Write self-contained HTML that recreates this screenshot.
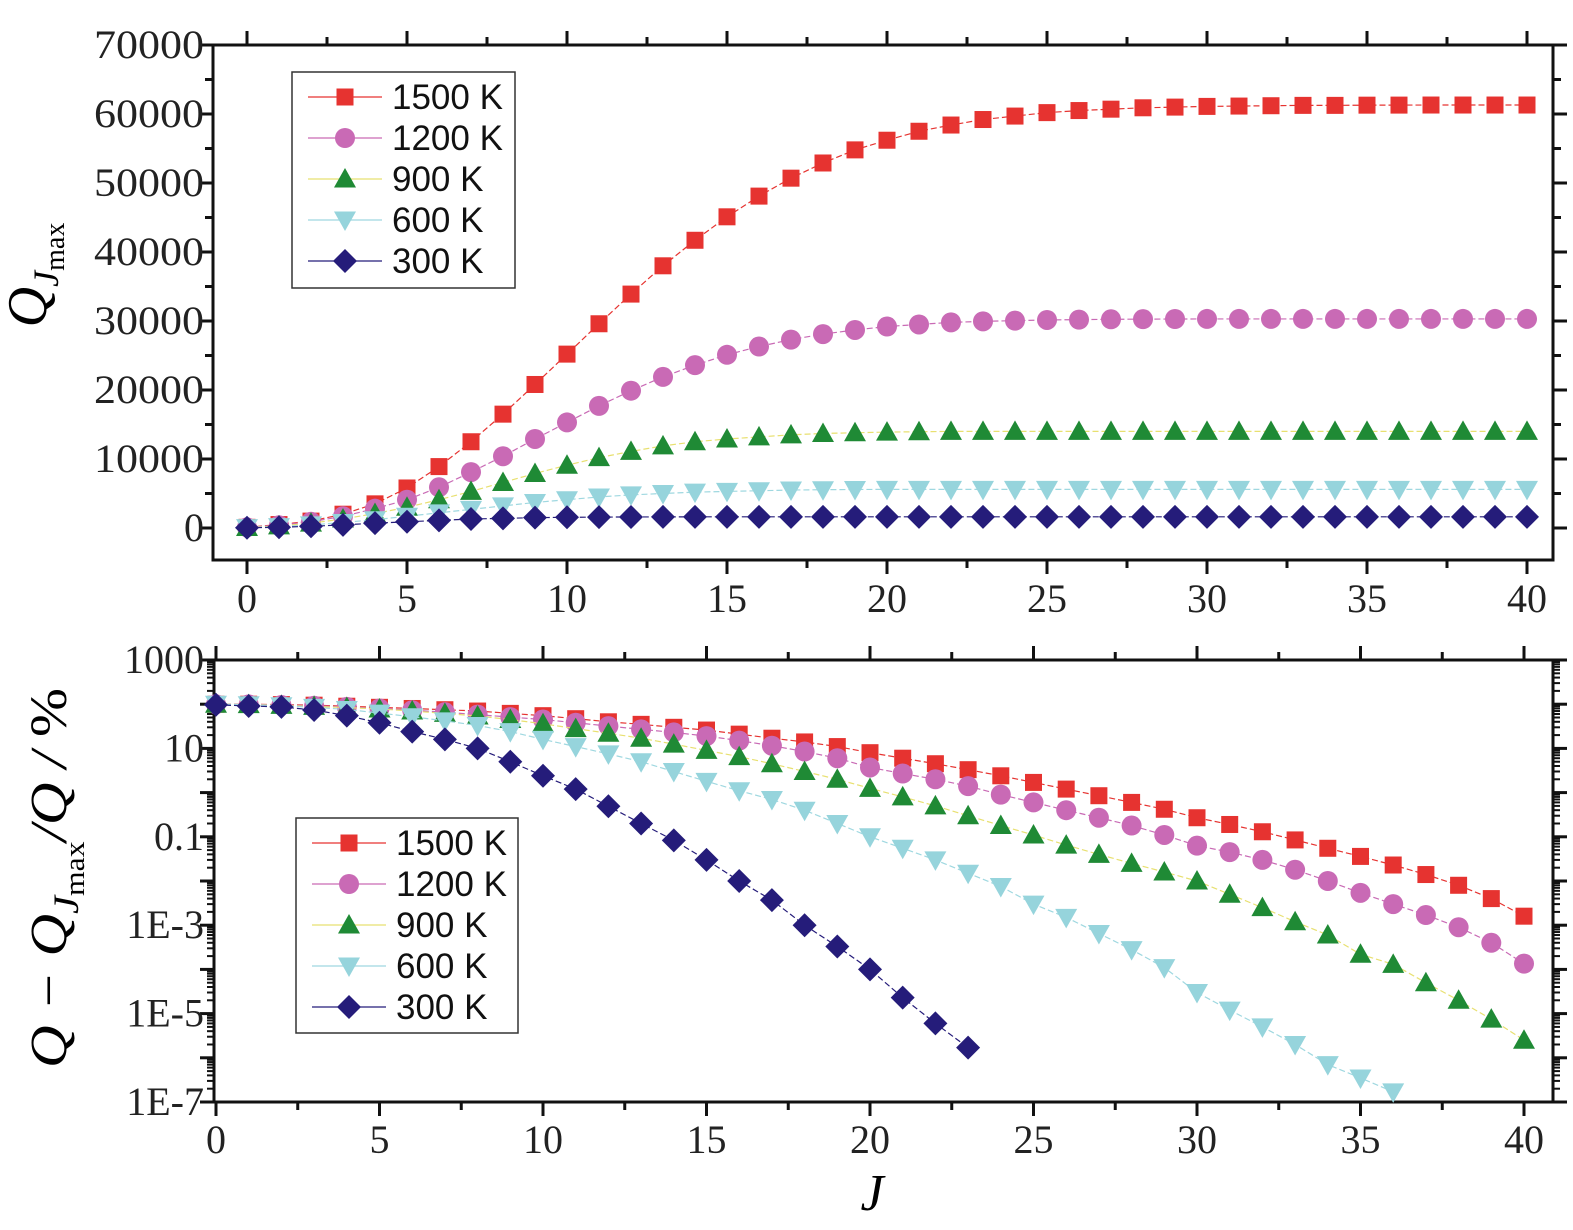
<!DOCTYPE html>
<html><head><meta charset="utf-8">
<style>
body{margin:0;background:#fff}
svg{display:block}
.tk{font-family:"Liberation Serif",serif;font-size:40px;fill:#222}
.lg{font-family:"Liberation Sans",sans-serif;font-size:35px;fill:#111}
</style></head>
<body>
<svg id="chart" width="1573" height="1230" viewBox="0 0 1573 1230" xmlns="http://www.w3.org/2000/svg"></svg>
<script>
const J = Array.from({length:41},(_,i)=>i);
const seriesNames = ["1500 K","1200 K","900 K","600 K","300 K"];
const qTop1500 = [100,500,1000,2000,3500,5800,8900,12500,16500,20800,25200,29600,33900,38000,41700,45100,48100,50700,52900,54800,56200,57500,58400,59200,59700,60200,60500,60700,60900,61000,61100,61150,61200,61250,61250,61280,61290,61300,61300,61300,61300];
const qTop1200 = [100,400,900,1700,2800,4100,5900,8100,10400,12900,15300,17700,19900,21900,23600,25100,26300,27300,28100,28700,29200,29500,29800,29950,30050,30150,30200,30250,30270,30290,30300,30300,30300,30300,30300,30300,30300,30300,30300,30300,30300];
const qTop900 = [80,300,700,1300,2100,3000,4100,5300,6600,7900,9100,10200,11100,11900,12500,12900,13200,13500,13700,13800,13900,13950,14000,14000,14000,14000,14000,14000,14000,14000,14000,14000,14000,14000,14000,14000,14000,14000,14000,14000,14000];
const qTop600 = [60,200,450,800,1200,1700,2200,2700,3200,3700,4100,4500,4800,5000,5200,5300,5400,5500,5550,5580,5600,5600,5600,5600,5600,5600,5600,5600,5600,5600,5600,5600,5600,5600,5600,5600,5600,5600,5600,5600,5600];
const qTop300 = [30,100,250,450,700,900,1100,1300,1400,1500,1550,1580,1600,1610,1620,1620,1620,1620,1620,1620,1620,1620,1620,1620,1620,1620,1620,1620,1620,1620,1620,1620,1620,1620,1620,1620,1620,1620,1620,1620,1620];
const pct1500 = [100,100,98,95,90,85,80,75,70,62,55,47,40,35,30,26,21,17,14,11,8,6,4.5,3.3,2.4,1.7,1.2,0.85,0.6,0.42,0.27,0.19,0.13,0.085,0.055,0.036,0.023,0.014,0.008,0.004,0.0016];
const pct1200 = [100,99,96,92,87,80,73,66,58,51,45,38,32,27,23,19,15,11.5,8.5,6,3.7,2.7,2,1.4,0.9,0.6,0.4,0.27,0.18,0.11,0.063,0.045,0.03,0.018,0.01,0.0054,0.003,0.0017,0.0009,0.0004,0.000135];
const pct900 = [100,98,94,89,84,78,70,62,54,45,36,28,22,17,12.5,9,6.5,4.5,3,2,1.25,0.8,0.5,0.3,0.18,0.11,0.065,0.04,0.025,0.016,0.01,0.005,0.0025,0.0012,6e-4,2.2e-4,1.3e-4,5e-5,2e-5,7.5e-6,2.5e-6];
const pct600 = [100,97,92,85,76,63,52,42,33,24,16,11,7.5,5,3,1.8,1.1,0.7,0.4,0.2,0.1,0.055,0.03,0.015,0.0075,0.003,0.0015,6.5e-4,2.8e-4,1.1e-4,3e-5,1.2e-5,5e-6,2e-6,7e-7,3.5e-7,1.7e-7];
const pct300 = [97,91,87,74,55,38,24,16,10,5,2.4,1.2,0.49,0.2,0.083,0.03,0.01,0.0037,0.001,3.3e-4,1e-4,2.3e-5,6e-6,1.7e-6];
const topTicks = [0,10000,20000,30000,40000,50000,60000,70000];
const botTickVals = [1000,10,0.1,0.001,0.00001,0.0000001];
const botTickLabels = ["1000","10","0.1","1E-3","1E-5","1E-7"];
const xTickVals = [0,5,10,15,20,25,30,35,40];

const NS="http://www.w3.org/2000/svg";
const svg=document.getElementById('chart');
function mk(tag,attrs,parent){const e=document.createElementNS(NS,tag);for(const k in attrs)e.setAttribute(k,attrs[k]);(parent||svg).appendChild(e);return e;}

const colors=["#e63330","#c96ab5","#1f8a35","#96d4dc","#251c7a"];
const lineCol=["#e63330","#c96ab5","#e8e070","#9fd8e0","#251c7a"];
const shapes=["square","circle","tri","dtri","diamond"];
function marker(g,shape,cx,cy,col,s){
  s=s||10;let e;
  if(shape==="square") e=mk('rect',{x:cx-s*0.85,y:cy-s*0.85,width:s*1.7,height:s*1.7,fill:col},g);
  else if(shape==="circle") e=mk('circle',{cx:cx,cy:cy,r:s,fill:col},g);
  else if(shape==="tri") e=mk('polygon',{points:`${cx},${cy-s*1.1} ${cx+s*1.1},${cy+s*0.85} ${cx-s*1.1},${cy+s*0.85}`,fill:col},g);
  else if(shape==="dtri") e=mk('polygon',{points:`${cx},${cy+s*1.1} ${cx+s*1.1},${cy-s*0.85} ${cx-s*1.1},${cy-s*0.85}`,fill:col},g);
  else e=mk('polygon',{points:`${cx},${cy-s*1.2} ${cx+s*1.2},${cy} ${cx},${cy+s*1.2} ${cx-s*1.2},${cy}`,fill:col},g);
  return e;
}

// ---------- top panel ----------
const T={l:213,r:1553,t:45,b:560};
const tx=v=>247+v*32;
const ty=v=>528-v*(483/70000);
const topFrame=mk('rect',{x:T.l,y:T.t,width:T.r-T.l,height:T.b-T.t,fill:"none",stroke:"#111","stroke-width":3});


const topAx=mk('g',{});


for(let v=0;v<=40;v+=2.5){const x=tx(v);const maj=v%5===0;
  mk('line',{x1:x,y1:T.b,x2:x,y2:T.b+(maj?14:8),stroke:"#111","stroke-width":3},topAx);
  mk('line',{x1:x,y1:T.t,x2:x,y2:T.t-(maj?14:8),stroke:"#111","stroke-width":3},topAx);}
xTickVals.forEach(v=>{const t=mk('text',{x:tx(v),y:612,"text-anchor":"middle",class:"tk"},topAx);t.textContent=v;});
for(let v=0;v<=70000;v+=5000){const y=ty(v);const maj=v%10000===0;
  mk('line',{x1:T.l,y1:y,x2:T.l-(maj?14:8),y2:y,stroke:"#111","stroke-width":3},topAx);
  mk('line',{x1:T.r,y1:y,x2:T.r+(maj?14:8),y2:y,stroke:"#111","stroke-width":3},topAx);}
topTicks.forEach(v=>{const t=mk('text',{x:204,y:ty(v)+13,"text-anchor":"end",class:"tk",textLength:v===0?null:110,lengthAdjust:"spacingAndGlyphs"},topAx);if(v===0)t.removeAttribute('textLength');t.textContent=v;});
const topData=[qTop1500,qTop1200,qTop900,qTop600,qTop300];
topData.forEach((arr,si)=>{
  const g=mk('g',{});
  
  
  mk('polyline',{points:arr.map((v,i)=>tx(J[i])+","+ty(v)).join(" "),fill:"none",stroke:lineCol[si],"stroke-width":1.2,"stroke-dasharray":"6,3"},g);
  arr.forEach((v,i)=>{const m=marker(g,shapes[si],tx(J[i]),ty(v),colors[si]);
    
    });
});
const yt1=mk('text',{transform:"translate(46,275) rotate(-90)","text-anchor":"middle",style:"font-family:'Liberation Serif',serif;font-size:56px;font-style:italic"});


yt1.innerHTML='Q<tspan font-size="36" dy="12">J</tspan><tspan font-size="28" font-style="normal" dy="6">max</tspan>';

function legend(x,y,w,h,name){
  const g=mk('g',{});
  
  
  mk('rect',{x:x,y:y,width:w,height:h,fill:"#fff",stroke:"#333","stroke-width":1.5},g);
  seriesNames.forEach((n,i)=>{const cy=y+25+i*41;
    const e=mk('g',{},g);
    
    
    mk('line',{x1:x+16,y1:cy,x2:x+90,y2:cy,stroke:lineCol[i],"stroke-width":1.2},e);
    marker(e,shapes[i],x+53,cy,colors[i]);
    const t=mk('text',{x:x+100,y:cy+12,class:"lg"},e);t.textContent=n;});
}
legend(292,72,223,216,'top-legend');

// ---------- bottom panel ----------
const B={l:214,r:1553,t:660,b:1102};
const bx=v=>216+v*32.7;
const by=v=>660+(3-Math.log10(v))*44.2;
const botFrame=mk('rect',{x:B.l,y:B.t,width:B.r-B.l,height:B.b-B.t,fill:"none",stroke:"#111","stroke-width":3});


const botAx=mk('g',{});


for(let v=0;v<=40;v+=2.5){const x=bx(v);const maj=v%5===0;
  mk('line',{x1:x,y1:B.b,x2:x,y2:B.b+(maj?14:8),stroke:"#111","stroke-width":3},botAx);
  mk('line',{x1:x,y1:B.t,x2:x,y2:B.t-(maj?14:8),stroke:"#111","stroke-width":3},botAx);}
xTickVals.forEach(v=>{const t=mk('text',{x:bx(v),y:1153,"text-anchor":"middle",class:"tk"},botAx);t.textContent=v;});
for(let d=-7;d<=3;d++){
  const y=by(Math.pow(10,d));
  mk('line',{x1:B.l,y1:y,x2:B.l-14,y2:y,stroke:"#111","stroke-width":3},botAx);
  mk('line',{x1:B.r,y1:y,x2:B.r+14,y2:y,stroke:"#111","stroke-width":3},botAx);
  if(d<3) for(let k=2;k<=9;k++){const yy=by(k*Math.pow(10,d));
    mk('line',{x1:B.l,y1:yy,x2:B.l-7,y2:yy,stroke:"#111","stroke-width":2},botAx);
    mk('line',{x1:B.r,y1:yy,x2:B.r+7,y2:yy,stroke:"#111","stroke-width":2},botAx);}
}
botTickVals.forEach((v,i)=>{const t=mk('text',{x:204,y:by(v)+13,"text-anchor":"end",class:"tk"},botAx);t.textContent=botTickLabels[i];});
const botData=[pct1500,pct1200,pct900,pct600,pct300];
botData.forEach((arr,si)=>{
  const g=mk('g',{});
  
  
  mk('polyline',{points:arr.map((v,i)=>bx(J[i])+","+by(v)).join(" "),fill:"none",stroke:lineCol[si],"stroke-width":1.2,"stroke-dasharray":"6,3"},g);
  arr.forEach((v,i)=>{const m=marker(g,shapes[si],bx(J[i]),by(v),colors[si]);
    
    });
});
legend(296,818,222,215,'bottom-legend');
const yt2=mk('text',{transform:"translate(66,878) rotate(-90)","text-anchor":"middle",textLength:380,lengthAdjust:"spacingAndGlyphs",style:"font-family:'Liberation Serif',serif;font-size:52px;font-style:italic"});


yt2.innerHTML='Q − Q<tspan font-size="36" dy="12">J</tspan><tspan font-size="28" font-style="normal" dy="6">max</tspan><tspan dy="-18">/Q / </tspan><tspan font-style="normal">%</tspan>';
const xt=mk('text',{x:872,y:1210,"text-anchor":"middle",style:"font-family:'Liberation Serif',serif;font-size:52px;font-style:italic"});


xt.textContent='J';
</script>
</body></html>
